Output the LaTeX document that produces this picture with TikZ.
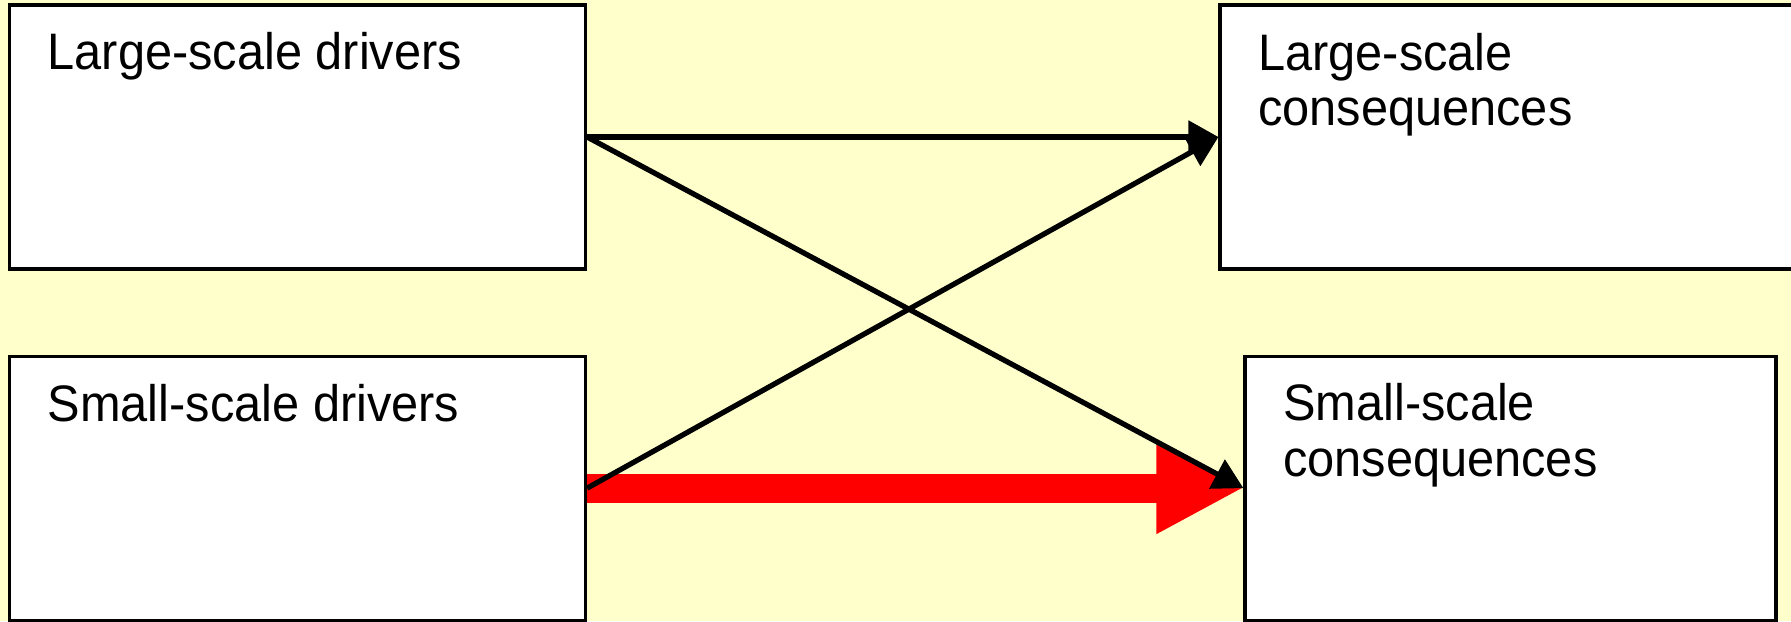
\documentclass[tikz,border=0pt]{standalone}
\usepackage{fontspec}
\setmainfont{Liberation Sans}[FakeStretch=0.95]
\usetikzlibrary{arrows.meta,positioning}
\definecolor{bgyellow}{RGB}{255,255,204}

\begin{document}
\begin{tikzpicture}[
  node distance=0.84cm,
  box/.style={
    draw, fill=white, rectangle, line width=0.9pt, inner sep=0pt,
    minimum width=5.76cm, minimum height=2.64cm
  },
  lbl/.style={anchor=base west, inner sep=0pt, align=left, font=\fontsize{14.6}{15.9}\selectfont},
  arrow/.style={-{Triangle[length=0.3cm,width=0.32cm]}, line width=1.5pt},
  bigarrow/.style={-{Triangle[length=0.87cm,width=0.85cm]}, line width=0.29cm, red}
]

% Background
\fill[bgyellow] (0,0) rectangle (17.91,-6.21);
\useasboundingbox (0,0) rectangle (17.91,-6.21);

% Drivers (left)
\node[box] (ld) at (2.975,-1.37) {};
\node[box, below=of ld] (sd) {};

% Consequences (right)
\node[box] (lc) at (15.08,-1.37) {};
\node[box, minimum width=5.31cm, below=of lc, xshift=0.025cm] (sc) {};

% Labels (base anchor sits on the last line)
\node[lbl] (ldtext) at ([shift={(0.39,-0.665)}]ld.north west) {Large-scale drivers};
\node[lbl] (sdtext) at ([shift={(0.39,-0.665)}]sd.north west) {Small-scale drivers};
\node[lbl] (lctext) at ([shift={(0.39,-1.225)}]lc.north west) {Large-scale\\consequences};
\node[lbl] (sctext) at ([shift={(0.39,-1.215)}]sc.north west) {Small-scale\\consequences};

% Links between scales
\draw[bigarrow] (sd.east) -- (sc.west);
\draw[arrow] (ld.east) -- (lc.west);
\draw[arrow] (ld.east) -- (sc.west);
\draw[arrow] (sd.east) -- (lc.west);

\end{tikzpicture}
\end{document}
